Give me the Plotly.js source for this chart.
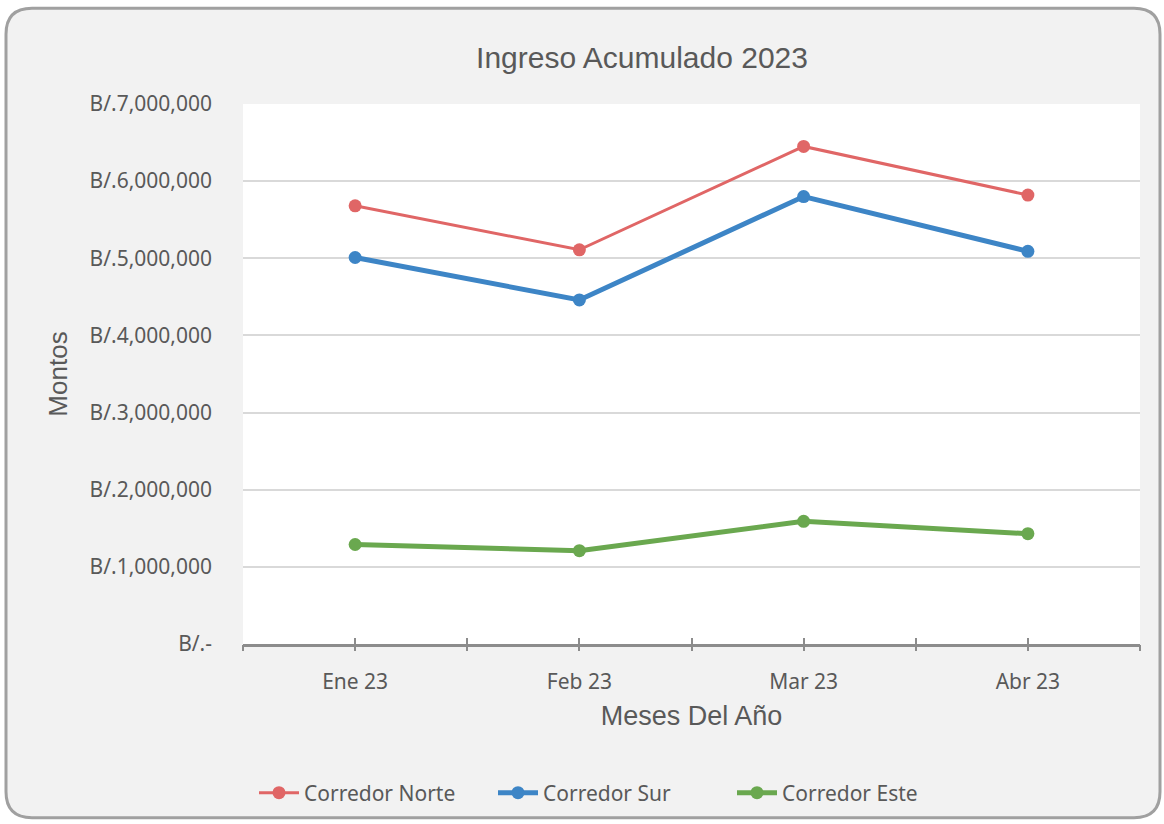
<!DOCTYPE html>
<html>
<head>
<meta charset="utf-8">
<script src="https://cdn.plot.ly/plotly-3.0.1.min.js"></script>
<style>html,body{margin:0;padding:0;background:#fff;}#chart{width:1164px;height:824px;}</style>
</head>
<body>
<div id="chart"></div>
<script>
// ---- data ----
const months = ["Ene 23", "Feb 23", "Mar 23", "Abr 23"];
const corredorNorte = [5680000, 5110000, 6450000, 5820000];
const corredorSur   = [5010000, 4460000, 5800000, 5090000];
const corredorEste  = [1290000, 1210000, 1590000, 1430000];
const seriesNames = ["Corredor Norte", "Corredor Sur", "Corredor Este"];
const yTickVals = [0, 1000000, 2000000, 3000000, 4000000, 5000000, 6000000, 7000000];
const yTickText = ["B/.-", "B/.1,000,000", "B/.2,000,000", "B/.3,000,000", "B/.4,000,000", "B/.5,000,000", "B/.6,000,000", "B/.7,000,000"];

// ---- styling ----
const textColor = "#595959";
const tickFont = {family: "Noto Sans, sans-serif", size: 21, color: textColor};
const narrowFont = "Liberation Sans, Arial, sans-serif";

const colors = ["#e06666", "#3d85c6", "#6aa84f"];
const widths = [3, 5, 5];
const allSeries = [corredorNorte, corredorSur, corredorEste];

const traces = allSeries.map((vals, i) => ({
  type: "scatter", mode: "lines+markers",
  x: months, y: vals, name: seriesNames[i],
  line: {color: colors[i], width: widths[i]},
  marker: {color: colors[i], size: 13},
  xaxis: "x", yaxis: "y"
}));
// helper traces so the tick-mark axes are drawn
traces.push({type: "scatter", x: [], y: [], xaxis: "x2", yaxis: "y", showlegend: false, hoverinfo: "skip"});
traces.push({type: "scatter", x: [], y: [], xaxis: "x3", yaxis: "y", showlegend: false, hoverinfo: "skip"});

// plot area pixels
const L = 243, R = 1140, T = 104, B = 645, W = 1164, H = 824;
const pw = R - L, ph = B - T;
const px = v => (v - L) / pw;
const py = v => (B - v) / ph;

function rr(x0, y0, x1, y1, r) {
  const rx = r / pw, ry = r / ph;
  const a = px(x0), b = px(x1), top = py(y0), bot = py(y1);
  return `M${a+rx},${top} L${b-rx},${top} Q${b},${top} ${b},${top-ry} L${b},${bot+ry} Q${b},${bot} ${b-rx},${bot} L${a+rx},${bot} Q${a},${bot} ${a},${bot+ry} L${a},${top-ry} Q${a},${top} ${a+rx},${top} Z`;
}
const frame = rr(6, 8, 1160, 819, 26);
const outer = `M${px(-5)},${py(-5)} L${px(W+5)},${py(-5)} L${px(W+5)},${py(H+5)} L${px(-5)},${py(H+5)} Z `;

const tickAxis = (dir) => ({
  type: "linear", overlaying: "x", anchor: "y", range: [-0.5, 3.5],
  tick0: -0.5, dtick: 0.5, ticks: dir, ticklen: 6, tickwidth: 2, tickcolor: "#8c8c8c",
  showticklabels: false, showgrid: false, zeroline: false, showline: false,
  fixedrange: true
});

const layout = {
  width: W, height: H,
  paper_bgcolor: "#f2f2f2", plot_bgcolor: "#ffffff",
  margin: {l: L, r: W - R, t: T, b: H - B, pad: 0},
  showlegend: true,
  title: {
    text: "Ingreso Acumulado 2023",
    font: {family: narrowFont, size: 30, color: textColor},
    x: 642 / W, xref: "container", xanchor: "center",
    y: 1 - 57 / H, yref: "container", yanchor: "middle"
  },
  xaxis: {
    type: "category", range: [-0.5, 3.5],
    showgrid: false, zeroline: false,
    showline: true, linecolor: "#8c8c8c", linewidth: 3,
    ticks: "", ticklabelstandoff: 17,
    tickfont: tickFont,
    title: {text: "Meses Del Año", font: {family: narrowFont, size: 27, color: textColor}, standoff: 12}
  },
  xaxis2: tickAxis("outside"),
  xaxis3: tickAxis("inside"),
  yaxis: {
    range: [0, 7000000],
    tickmode: "array", tickvals: yTickVals, ticktext: yTickText,
    showgrid: true, gridcolor: "#d9d9d9", gridwidth: 2,
    zeroline: false, showline: false, ticks: "",
    ticklabelstandoff: 30,
    tickfont: tickFont,
    title: {text: "Montos", font: {family: narrowFont, size: 26, color: textColor}, standoff: 14}
  },
  legend: {
    orientation: "h", x: px(254), xanchor: "left", y: py(793), yanchor: "middle",
    font: {family: "Noto Sans, sans-serif", size: 21, color: textColor},
    bgcolor: "rgba(0,0,0,0)", itemwidth: 40, entrywidth: 184, entrywidthmode: "pixels"
  },
  shapes: [
    {type: "path", xref: "paper", yref: "paper", path: outer + frame, fillrule: "evenodd",
     fillcolor: "#ffffff", line: {width: 0}, layer: "above"},
    {type: "path", xref: "paper", yref: "paper", path: frame,
     fillcolor: "rgba(0,0,0,0)", line: {color: "#a0a0a0", width: 3}, layer: "above"}
  ]
};

Plotly.newPlot("chart", traces, layout, {displayModeBar: false, staticPlot: true});
</script>
</body>
</html>
